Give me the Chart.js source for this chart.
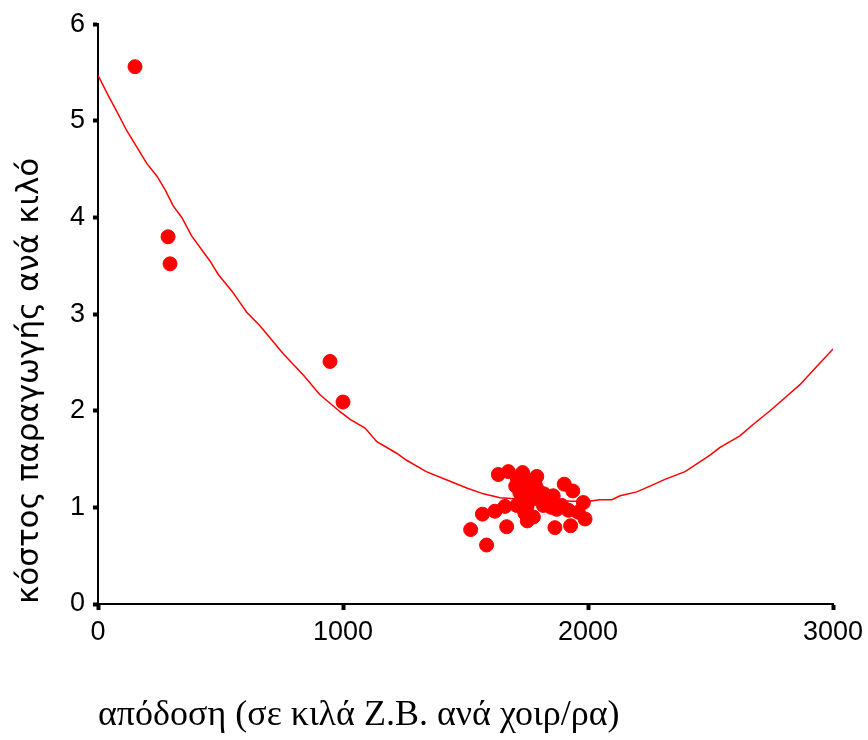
<!DOCTYPE html>
<html>
<head>
<meta charset="utf-8">
<script src="https://cdn.jsdelivr.net/npm/chart.js@4.4.0/dist/chart.umd.min.js"></script>
<style>
html, body { margin: 0; padding: 0; background: #fff; }
</style>
</head>
<body>
<canvas id="costChart" width="868" height="740"></canvas>
<script>
// farm data: yield (kg per sow) vs production cost per kg
const farmYield = [151, 286, 294, 947, 1000,
    1521, 1586, 1569, 1620, 1634, 1675, 1733, 1791, 1705, 1661, 1668, 1752, 1777,
    1820, 1858, 1903, 1938, 1981, 1988, 1929, 1865, 1872, 1920, 1818, 1729, 1763,
    1709, 1750, 1784, 1960, 1736, 1831,
    1722, 1745, 1770, 1792, 1742, 1800, 1757, 1712, 1850, 1893];
const farmCost = [5.56, 3.80, 3.52, 2.51, 2.09,
    0.77, 0.61, 0.93, 0.96, 1.34, 1.37, 1.36, 1.32, 1.22, 1.01, 0.80, 0.86, 0.90,
    1.14, 1.12, 1.24, 1.17, 1.05, 0.88, 0.81, 0.79, 0.98, 0.97, 1.02, 1.12, 1.17,
    1.02, 1.00, 1.24, 0.95, 1.26, 1.07,
    1.15, 1.05, 1.08, 1.19, 0.94, 1.12, 1.26, 1.30, 1.00, 1.02];

// fitted cost curve
const curveYield = [0, 42, 76, 117, 158, 199, 240, 273, 307, 342, 382, 457, 491, 546,
    607, 661, 756, 838, 904, 988, 1029, 1090, 1138, 1219, 1258, 1340, 1437, 1505,
    1573, 1641, 1804, 1995, 2049, 2097, 2131, 2199, 2253, 2314, 2396, 2444, 2498,
    2539, 2620, 2675, 2743, 2811, 2865, 2927, 3000];
const curveCost = [5.47, 5.26, 5.10, 4.90, 4.73, 4.56, 4.43, 4.29, 4.12, 4.00, 3.81,
    3.55, 3.41, 3.24, 3.02, 2.88, 2.59, 2.37, 2.17, 1.99, 1.91, 1.82, 1.68, 1.56,
    1.49, 1.37, 1.27, 1.20, 1.14, 1.10, 1.07, 1.06, 1.08, 1.08, 1.12, 1.16, 1.22,
    1.29, 1.37, 1.45, 1.54, 1.62, 1.74, 1.86, 2.00, 2.15, 2.27, 2.44, 2.64];

const xTicks = [0, 1000, 2000, 3000];
const yTicks = [0, 1, 2, 3, 4, 5, 6];

const xTitle = "απόδοση (σε κιλά Ζ.Β. ανά χοιρ/ρα)";
const yTitle = "κόστος παραγωγής ανά κιλό";

const red = "#ff0000";

const ctx = document.getElementById("costChart").getContext("2d");
new Chart(ctx, {
    data: {
        datasets: [{
            type: "scatter",
            data: farmYield.map((x, i) => ({ x: x, y: farmCost[i] })),
            backgroundColor: red,
            borderColor: red,
            pointRadius: 7,
            pointHoverRadius: 7
        }, {
            type: "line",
            data: curveYield.map((x, i) => ({ x: x, y: curveCost[i] })),
            borderColor: red,
            borderWidth: 1.5,
            pointRadius: 0,
            tension: 0,
            fill: false
        }]
    },
    options: {
        responsive: false,
        animation: false,
        layout: { padding: { top: 20, right: 0, left: 0, bottom: 0 } },
        plugins: {
            legend: { display: false },
            tooltip: { enabled: false }
        },
        scales: {
            x: {
                type: "linear",
                min: 0,
                max: 3000,
                afterBuildTicks: axis => { axis.ticks = xTicks.map(v => ({ value: v })); },
                afterFit: axis => { axis.height = 136; axis.paddingRight = 35; },
                grid: { drawOnChartArea: false, tickLength: 6, tickWidth: 4, tickColor: "#000" },
                border: { display: true, color: "#000", width: 2 },
                ticks: {
                    color: "#000",
                    padding: 6,
                    maxRotation: 0,
                    callback: v => String(v),
                    font: { family: "Liberation Sans, Arial", size: 27 }
                },
                title: {
                    display: true,
                    text: xTitle,
                    align: "start",
                    color: "#000",
                    padding: { top: 0, bottom: 3 },
                    font: { family: "Liberation Serif, Times New Roman", size: 36 }
                }
            },
            y: {
                type: "linear",
                min: 0,
                max: 6,
                afterBuildTicks: axis => { axis.ticks = yTicks.map(v => ({ value: v })); },
                afterFit: axis => { axis.width = 98; },
                grid: { drawOnChartArea: false, tickLength: 5, tickWidth: 4, tickColor: "#000" },
                border: { display: true, color: "#000", width: 2 },
                ticks: {
                    color: "#000",
                    padding: 8,
                    callback: v => String(v),
                    font: { family: "Liberation Sans, Arial", size: 27 }
                },
                title: {
                    display: true,
                    text: yTitle,
                    align: "start",
                    color: "#000",
                    padding: { top: 11, bottom: 0 },
                    font: { family: "DejaVu Sans", size: 31 }
                }
            }
        }
    }
});
</script>
</body>
</html>
